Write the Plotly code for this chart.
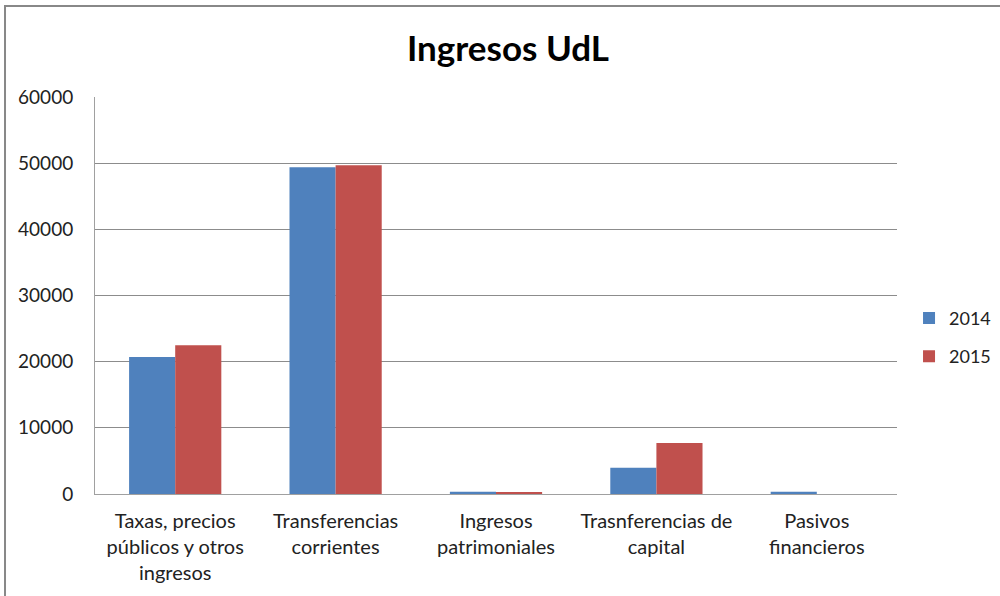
import plotly.graph_objects as go

categories = ["Taxas, precios<br>públicos y otros<br>ingresos",
              "Transferencias<br>corrientes",
              "Ingresos<br>patrimoniales",
              "Trasnferencias de<br>capital",
              "Pasivos<br>financieros"]
values_2014 = [20700, 49400, 350, 3950, 350]
values_2015 = [22500, 49700, 200, 7700, 0]

fig = go.Figure()
fig.add_trace(go.Bar(x=categories, y=values_2014, name="2014",
                     legendgroup="a", marker_color="#4F81BD",
                     marker_line_width=0))
fig.add_trace(go.Bar(x=categories, y=values_2015, name="2015",
                     legendgroup="b", marker_color="#C0504D",
                     marker_line_width=0))

# chart frame like the excel export
fig.add_shape(type="rect", xref="paper", yref="paper",
              x0=-0.1122, x1=1.2, y0=-0.3, y1=1.229,
              line=dict(color="#888888", width=2), layer="below")

fig.update_layout(
    width=1000, height=596,
    title=dict(text="<b>Ingresos UdL</b>", x=0.508, xanchor="center",
               y=0.918, yanchor="middle",
               font=dict(family="Lato", size=35, color="black")),
    font=dict(family="Lato", size=18, color="#222222"),
    plot_bgcolor="white", paper_bgcolor="white",
    margin=dict(l=95, r=103, t=97, b=102, autoexpand=False),
    barmode="group", bargap=0.425, bargroupgap=0,
    legend=dict(x=1.015, y=0.395, xanchor="left", yanchor="middle",
                font=dict(size=18), itemwidth=30, tracegroupgap=12,
                traceorder="grouped"),
    showlegend=True,
)
fig.update_yaxes(range=[0, 60000], dtick=10000, tickformat="d",
                 showgrid=True, gridcolor="#8c8c8c", gridwidth=1,
                 showline=True, linecolor="#a0a0a0", linewidth=1,
                 zeroline=False, automargin=False,
                 tickfont=dict(size=19), ticklabelstandoff=17)
fig.update_xaxes(showline=True, linecolor="#a0a0a0", linewidth=1,
                 automargin=False, tickfont=dict(size=20),
                 ticklabelstandoff=9)

# NOTE: drop the default 8px body margin so the figure fills the window
fig.write_html("out.html", config={"displayModeBar": False},
               post_script="document.body.style.margin='0';")
